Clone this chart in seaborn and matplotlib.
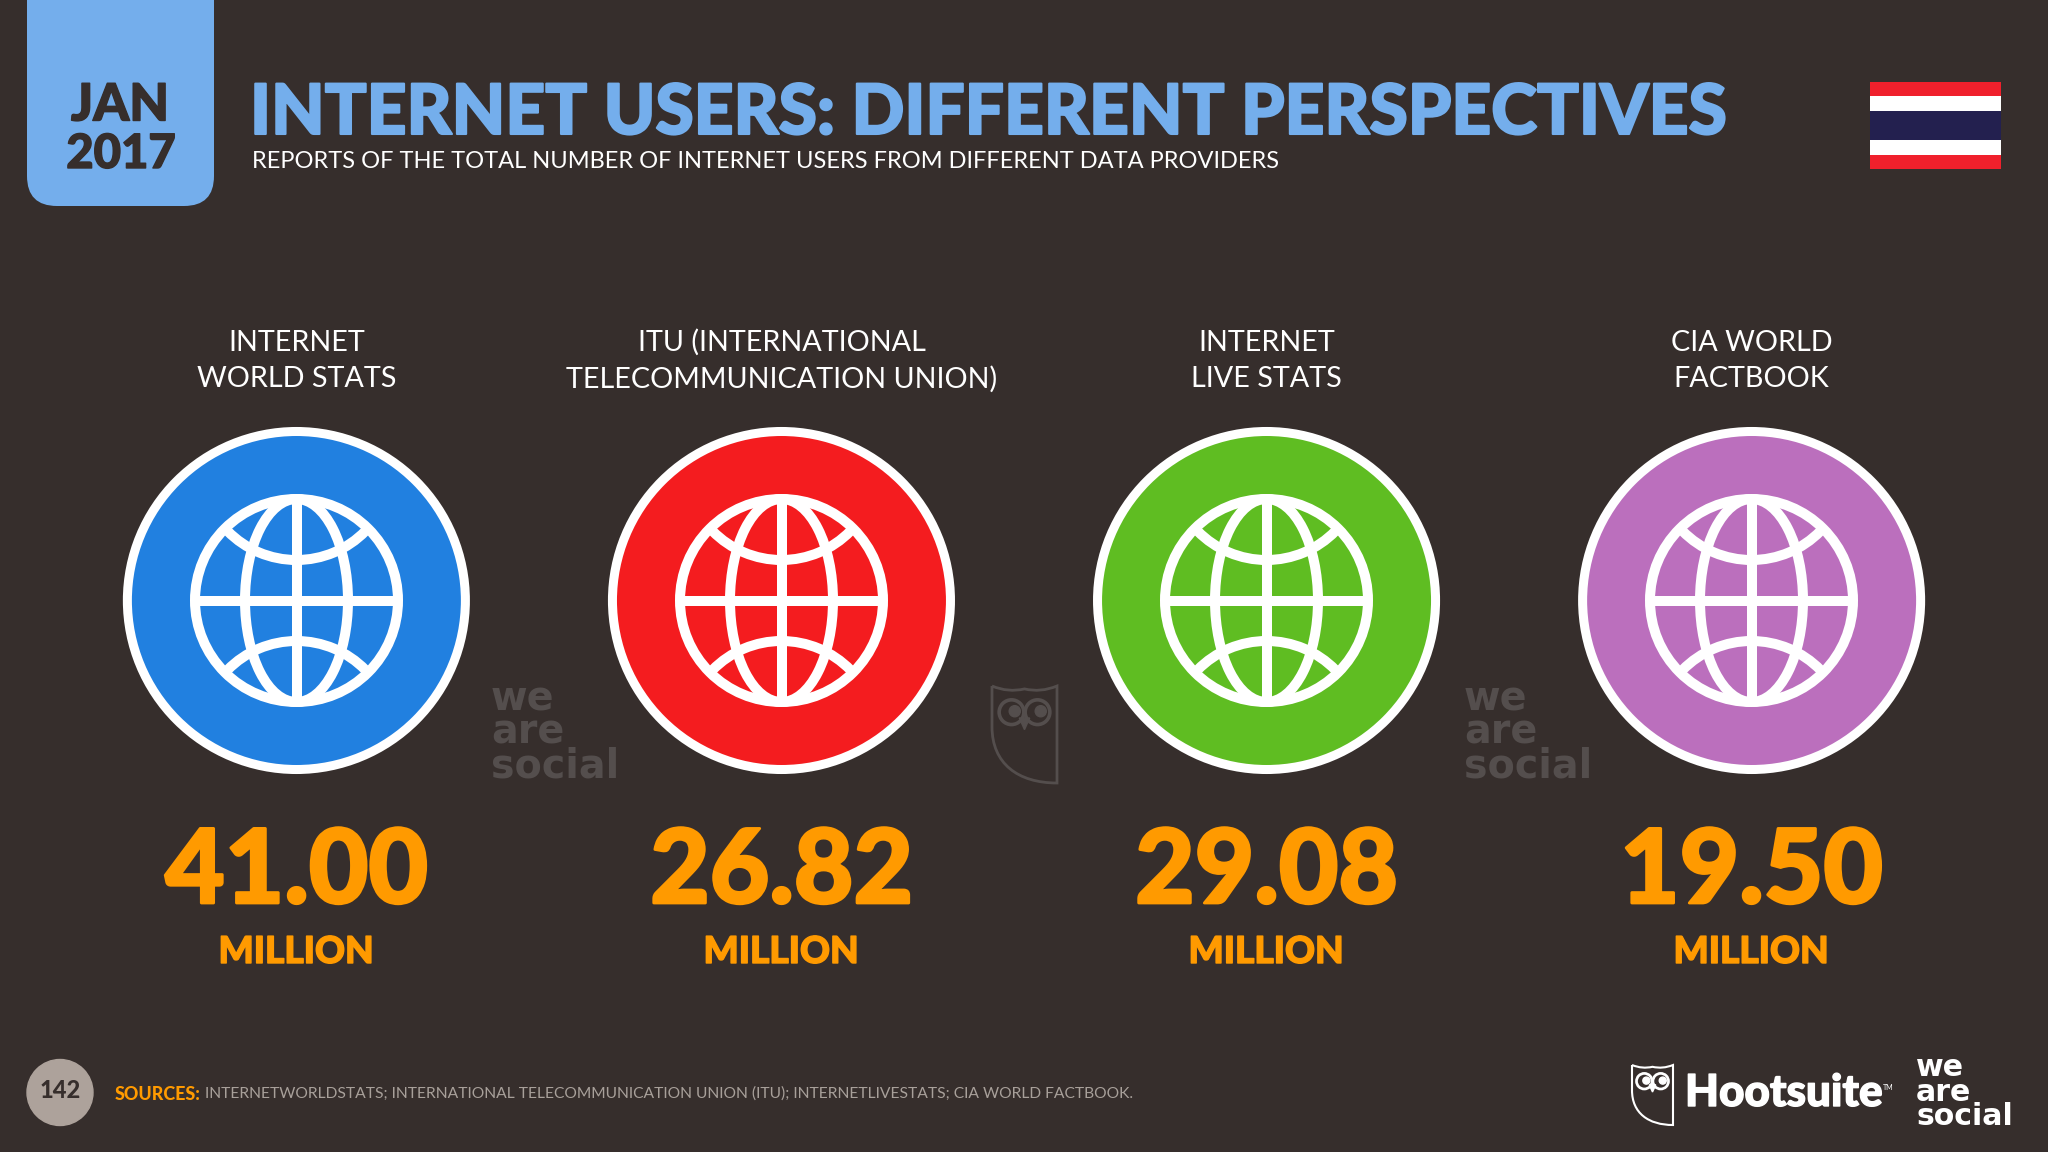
import seaborn as sns
import matplotlib.pyplot as plt
import matplotlib.patheffects as pe
import pandas as pd
from matplotlib.patches import Arc, Circle, Ellipse, FancyBboxPatch, PathPatch, Polygon, Rectangle
from matplotlib.path import Path

sources = ['INTERNET\nWORLD STATS', 'ITU (INTERNATIONAL\nTELECOMMUNICATION UNION)',
           'INTERNET\nLIVE STATS', 'CIA WORLD\nFACTBOOK']
users = ['41.00', '26.82', '29.08', '19.50']
unit = 'MILLION'
circle_colors = ['#2180e0', '#f41c1f', '#5fbd22', '#bb6fbd']

title = 'INTERNET USERS: DIFFERENT PERSPECTIVES'
subtitle = 'REPORTS OF THE TOTAL NUMBER OF INTERNET USERS FROM DIFFERENT DATA PROVIDERS'
footer = 'INTERNETWORLDSTATS; INTERNATIONAL TELECOMMUNICATION UNION (ITU); INTERNETLIVESTATS; CIA WORLD FACTBOOK.'

BG = '#362e2c'
SKY = '#74aeec'
ORANGE = '#ff9a00'
MARK = '#544e4d'

sns.set_style('dark')
plt.rcParams['font.family'] = ['Lato', 'DejaVu Sans']

df = pd.DataFrame({'source': sources, 'row': 0})

fig = plt.figure(figsize=(20.48, 11.52), dpi=100, facecolor=BG)

# data axes: one slot per source, circles sit on row 0
ax = fig.add_axes([0, 0, 1, 1], facecolor=BG)
sns.scatterplot(data=df, x='source', y='row', hue='source', palette=circle_colors,
                s=59230, edgecolor='white', linewidth=6.5, legend=False, ax=ax)
ax.set_xlim(-0.611, 3.611)
ax.set_ylim(1152 - 600.5, -600.5)
ax.axis('off')

# overlay in pixel coordinates for everything else
px = fig.add_axes([0, 0, 1, 1])
px.set_xlim(0, 2048)
px.set_ylim(1152, 0)
px.patch.set_alpha(0)
px.axis('off')


def heavy(color, width):
    return [pe.withStroke(linewidth=width, foreground=color)]


def globe(cx, cy):
    kw = dict(fill=False, edgecolor='white', linewidth=7.2)
    px.add_patch(Circle((cx, cy), 101.5, **kw))
    px.add_patch(Ellipse((cx, cy), 103, 203, **kw))
    px.plot([cx, cx], [cy - 101, cy + 101], color='white', lw=7.2, solid_capstyle='butt')
    px.plot([cx - 101, cx + 101], [cy, cy], color='white', lw=7.2, solid_capstyle='butt')
    px.add_patch(Arc((cx, cy - 137), 193, 193, theta1=44.4, theta2=135.6, color='white', lw=7.2))
    px.add_patch(Arc((cx, cy + 137), 193, 193, theta1=224.4, theta2=315.6, color='white', lw=7.2))


def owl(x, y, w, h, color, lw):
    outline = [(0, 0), (.25, .07), (.5, .03), (.75, .07), (1, 0), (1, 1), (.4, 1), (0, .8), (0, .42), (0, 0)]
    codes = [Path.MOVETO, Path.CURVE3, Path.CURVE3, Path.CURVE3, Path.CURVE3, Path.LINETO,
             Path.CURVE4, Path.CURVE4, Path.CURVE4, Path.LINETO]
    verts = [(x + a * w, y + b * h) for a, b in outline]
    px.add_patch(PathPatch(Path(verts, codes), fill=False, edgecolor=color, linewidth=lw))
    r = 0.19 * w
    for a in (.3, .7):
        px.add_patch(Circle((x + a * w, y + .27 * h), r, fill=False, edgecolor=color, linewidth=lw * 1.3))
        px.add_patch(Circle((x + (a + .05) * w, y + .26 * h), r * .45, color=color))
    px.add_patch(Polygon([(x + .42 * w, y + .33 * h), (x + .58 * w, y + .33 * h), (x + .5 * w, y + .45 * h)],
                         color=color))


def we_are_social(x, baseline, size, spacing, color):
    # baseline is the one of the last line
    px.text(x, baseline, 'we\nare\nsocial', color=color, fontsize=size, weight='bold', family='DejaVu Sans',
            ha='left', va='baseline', linespacing=spacing)


# date tab
px.add_patch(FancyBboxPatch((57, -60), 127, 236, boxstyle='round,pad=30', facecolor=SKY, edgecolor='none'))
px.text(120, 106, 'JAN', color=BG, fontsize=37, weight=900, ha='center', va='center',
        path_effects=heavy(BG, 1))
px.text(121, 154, '2017', color=BG, fontsize=34, weight=900, ha='center', va='center',
        path_effects=heavy(BG, 1))

px.text(250, 114.5, title, color=SKY, fontsize=50, weight=900, ha='left', va='center',
        path_effects=heavy(SKY, 1.5))
px.text(252, 161.5, subtitle, color='white', fontsize=17.05, ha='left', va='center')

# thai flag
for y, h, c in [(82, 87, '#f0202c'), (96, 59, 'white'), (111, 29, '#23204f')]:
    px.add_patch(Rectangle((1870, y), 131, h, facecolor=c, edgecolor='none'))

for i, (source, value) in enumerate(zip(sources, users)):
    cx = 296.5 + 485 * i
    px.text(cx, 361, source, color='white', fontsize=20.7, ha='center', va='center', linespacing=1.49)
    globe(cx, 600.5)
    px.text(cx, 873, value, color=ORANGE, fontsize=74, weight=900, ha='center', va='center',
            path_effects=heavy(ORANGE, 2))
    px.text(cx, 952, unit, color=ORANGE, fontsize=26.7, weight=900, ha='center', va='center',
            path_effects=heavy(ORANGE, 1))

# watermarks
we_are_social(491, 777, 28.5, 0.78, MARK)
we_are_social(1464, 777, 28.5, 0.78, MARK)
owl(992, 686, 65, 97, MARK, 2)

# footer
px.add_patch(Circle((60, 1092.5), 33, color='#ada29b'))
px.text(60, 1091, '142', color=BG, fontsize=17, weight=900, ha='center', va='center')
px.text(115, 1094, 'SOURCES:', color=ORANGE, fontsize=12.9, weight=900, ha='left', va='center')
px.text(205, 1094, footer, color='#a8a09a', fontsize=11.24, ha='left', va='center')

owl(1632, 1065, 41, 60, 'white', 1.5)
px.text(1685, 1093, 'Hootsuite', color='white', fontsize=31.7, weight=900, ha='left', va='center',
        path_effects=heavy('white', 1))
px.text(1883, 1087, 'TM', color='white', fontsize=5, ha='left', va='center')
we_are_social(1916, 1125, 21.6, 0.8, 'white')

fig.savefig('out.png', dpi=100, facecolor=BG)
